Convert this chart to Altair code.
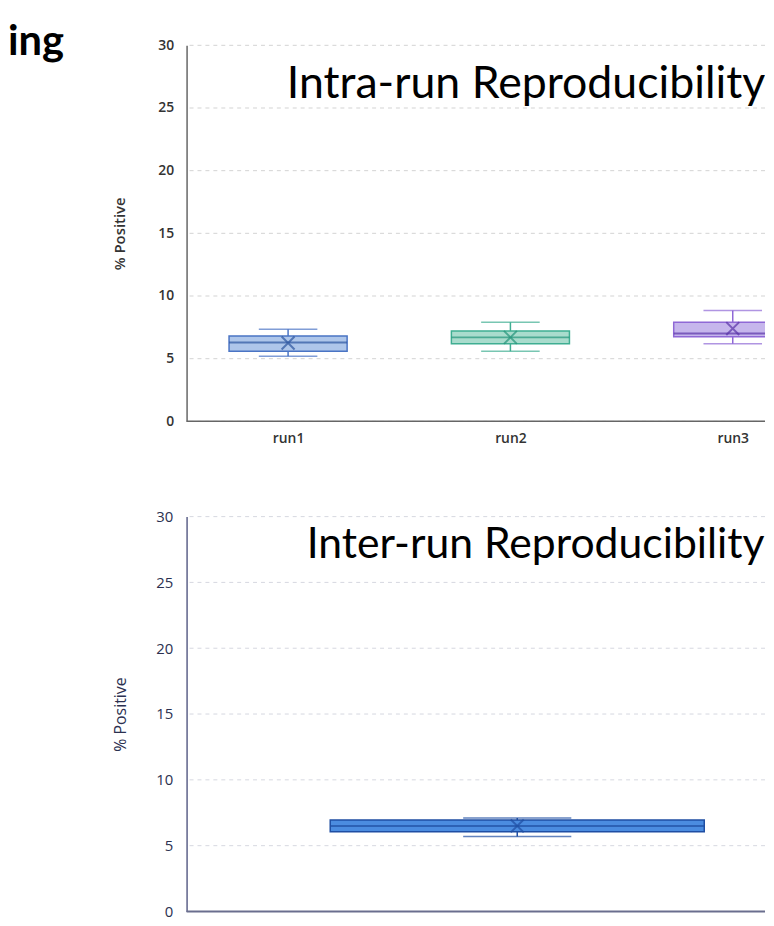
import altair as alt
import pandas as pd

# ---------------- data ----------------
runs = ["run1", "run2", "run3"]
run_pos = [1, 2, 3]
run_min = [5.2, 5.6, 6.2]
run_q1 = [5.6, 6.2, 6.75]
run_median = [6.3, 6.7, 7.0]
run_q3 = [6.8, 7.2, 7.9]
run_max = [7.35, 7.9, 8.85]
run_mean = [6.25, 6.7, 7.4]

inter_group = ["run1-run3"]
inter_pos = [1]
inter_min = [5.7]
inter_q1 = [6.05]
inter_median = [6.5]
inter_q3 = [6.95]
inter_max = [7.1]
inter_mean = [6.5]

y_ticks = [0, 5, 10, 15, 20, 25, 30]

top_title = "Intra-run Reproducibility"
bottom_title = "Inter-run Reproducibility"
page_fragment = "ing"
y_title = "% Positive"

# ---------------- styles ----------------
fills = ["#aec6ea", "#a9dccd", "#c6b6ec"]
strokes = ["#4a74c4", "#3fae92", "#8f68d6"]
darks = ["#2c559f", "#24947a", "#5a34a8"]
inter_fill = "#4b8ce0"
inter_stroke = "#1f4ea3"
X_SHAPE = "M-1,-1L1,1M1,-1L-1,1"

W = 583
H_TOP = 379
H_BOT = 398
# visible part of the category axis (the slide crops the right side away)
TOP_X_DOMAIN = [1 - 99 / 228, 1 + (W - 99) / 228]
BOT_X_DOMAIN = [0, W / 334]

top_df = pd.DataFrame({
    "run": runs, "pos": run_pos, "min": run_min, "q1": run_q1, "median": run_median,
    "q3": run_q3, "max": run_max, "mean": run_mean,
})
bot_df = pd.DataFrame({
    "group": inter_group, "pos": inter_pos, "min": inter_min, "q1": inter_q1,
    "median": inter_median, "q3": inter_q3, "max": inter_max, "mean": inter_mean,
})
grid_df = pd.DataFrame({"v": y_ticks})
zero_df = pd.DataFrame({"z": [0]})

top_yaxis = alt.Axis(
    values=y_ticks, title=y_title, ticks=False, labelPadding=13, grid=False,
    labelFont="Open Sans", labelFontSize=14, labelFontWeight=600, labelColor="#333333",
    titleFont="Open Sans", titleFontSize=15, titleFontWeight=600, titleColor="#333333",
    titlePadding=31, domainColor="#666666", domainWidth=1.5,
)
bot_yaxis = alt.Axis(
    values=y_ticks, title=y_title, ticks=False, labelPadding=14, grid=False,
    labelFont="Open Sans", labelFontSize=15, labelFontWeight=400, labelColor="#2b3050",
    titleFont="Open Sans", titleFontSize=16, titleFontWeight=400, titleColor="#2b3050",
    titlePadding=27, domainColor="#5c6188", domainWidth=1.5,
)
yscale = alt.Scale(domain=[0, 30])


def ty(field, axis):
    return alt.Y(f"{field}:Q", scale=yscale, axis=axis)


label_expr = "[" + ",".join(f"'{r}'" for r in runs) + "][datum.value - 1]"
top_x = alt.X(
    "pos:Q",
    scale=alt.Scale(domain=TOP_X_DOMAIN, nice=False, zero=False),
    axis=alt.Axis(title=None, values=run_pos, labelExpr=label_expr, labelAngle=0,
                  domain=False, ticks=False, grid=False, labelPadding=10,
                  labelFont="Open Sans", labelFontSize=14, labelFontWeight=600,
                  labelColor="#333333"),
)
bot_x = alt.X(
    "pos:Q",
    scale=alt.Scale(domain=BOT_X_DOMAIN, nice=False, zero=False),
    axis=None,
)


def box_layers(df, x, axis, fill, stroke, dark, box_w, cap_w):
    base = alt.Chart(df)
    whisker = base.mark_rule(color=stroke, strokeWidth=1.5, clip=True).encode(
        x=x, y=ty("min", axis), y2="max:Q")
    cap_lo = base.mark_tick(color=stroke, size=cap_w, thickness=1.5, orient="horizontal",
                            clip=True).encode(x=x, y=ty("min", axis))
    cap_hi = base.mark_tick(color=stroke, size=cap_w, thickness=1.5, orient="horizontal",
                            clip=True).encode(x=x, y=ty("max", axis))
    box = base.mark_bar(size=box_w, fill=fill, stroke=stroke, strokeWidth=1.5, clip=True).encode(
        x=x, y=ty("q1", axis), y2="q3:Q")
    med = base.mark_tick(color=dark, size=box_w, thickness=2, orient="horizontal",
                         clip=True).encode(x=x, y=ty("median", axis))
    mean_pt = base.mark_point(shape=X_SHAPE, size=170, filled=False, color=dark,
                              strokeWidth=2, clip=True).encode(x=x, y=ty("mean", axis))
    return [whisker, cap_lo, cap_hi, box, med, mean_pt]


# ---------------- top panel ----------------
top_grid = alt.Chart(grid_df).mark_rule(color="#d2d2d2", strokeDash=[4, 4], strokeWidth=1).encode(
    y=ty("v", top_yaxis))
top_base = alt.Chart(zero_df).mark_rule(color="#666666", strokeWidth=1.5).encode(
    y=ty("z", top_yaxis))
top_layers = []
for i, r in enumerate(runs):
    sub = top_df[top_df["run"] == r]
    top_layers += box_layers(sub, top_x, top_yaxis, fills[i], strokes[i], darks[i], 119, 59)
top_text = alt.Chart(pd.DataFrame({"t": [top_title]})).mark_text(
    align="left", baseline="alphabetic", font="Lato", fontSize=45, color="#000000", clip=True
).encode(text="t:N", x=alt.value(101), y=alt.value(53))
frag_text = alt.Chart(pd.DataFrame({"t": [page_fragment]})).mark_text(
    align="left", baseline="alphabetic", font="Lato", fontSize=42, fontWeight="bold",
    color="#000000"
).encode(text="t:N", x=alt.value(-180), y=alt.value(10))

top = alt.layer(top_grid, top_base, *top_layers, top_text, frag_text).properties(
    width=W, height=H_TOP)

# ---------------- bottom panel ----------------
bot_grid = alt.Chart(grid_df).mark_rule(color="#d6d8e0", strokeDash=[4, 4], strokeWidth=1).encode(
    y=ty("v", bot_yaxis))
bot_base = alt.Chart(zero_df).mark_rule(color="#6a6e8e", strokeWidth=2).encode(
    y=ty("z", bot_yaxis))
bot_layers = box_layers(bot_df, bot_x, bot_yaxis, inter_fill, inter_stroke, inter_stroke, 377, 109)
bot_text = alt.Chart(pd.DataFrame({"t": [bottom_title]})).mark_text(
    align="left", baseline="alphabetic", font="Lato", fontSize=43, color="#000000", clip=True
).encode(text="t:N", x=alt.value(121), y=alt.value(42))

bottom = alt.layer(bot_grid, bot_base, *bot_layers, bot_text).properties(width=W, height=H_BOT)

chart = alt.vconcat(top, bottom, spacing=96, bounds="flush").properties(
    padding={"left": 0, "top": 10, "right": 0, "bottom": 0}
).configure_view(stroke=None)

chart.save("out.html", embed_options={"renderer": "svg", "actions": False})
